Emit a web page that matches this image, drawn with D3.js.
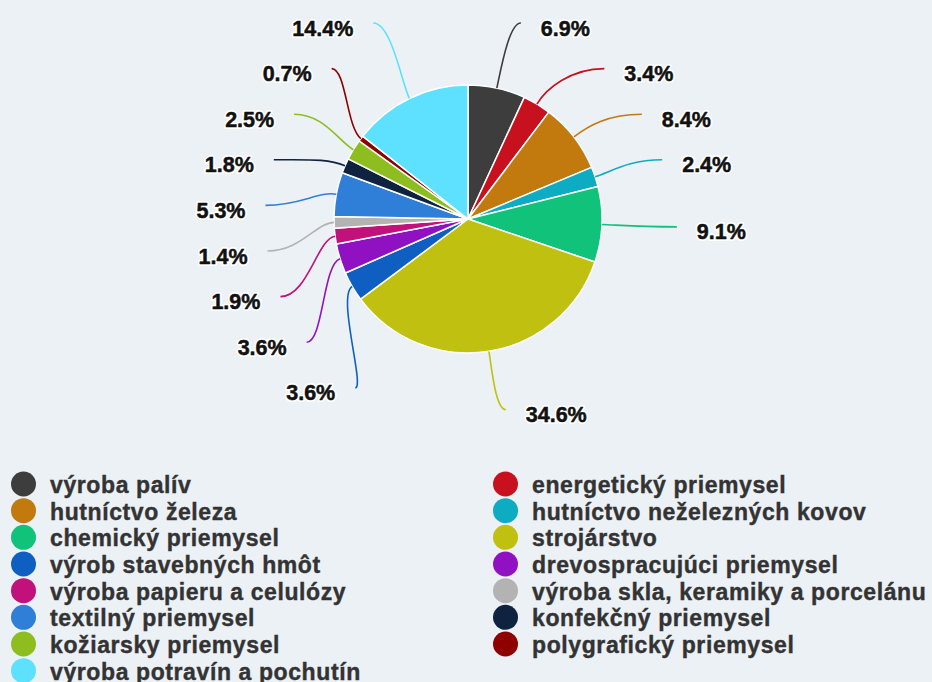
<!DOCTYPE html>
<html>
<head>
<meta charset="utf-8">
<script src="https://cdn.jsdelivr.net/npm/d3@7"></script>
<style>
  html, body { margin: 0; padding: 0; background: #ecf1f6; }
  svg { display: block; font-family: "Liberation Sans", Arial, Helvetica, sans-serif; }
</style>
</head>
<body>
<svg id="chart" width="932" height="682"></svg>
<script>
// data, in slice order (clockwise from 12 o'clock)
const categories = [
  "výroba palív", "energetický priemysel", "hutníctvo železa", "hutníctvo neželezných kovov",
  "chemický priemysel", "strojárstvo", "výrob stavebných hmôt", "drevospracujúci priemysel",
  "výroba papieru a celulózy", "výroba skla, keramiky a porcelánu", "textilný priemysel",
  "konfekčný priemysel", "kožiarsky priemysel", "polygrafický priemysel", "výroba potravín a pochutín"
]
const values = [6.9, 3.4, 8.4, 2.4, 9.1, 34.6, 3.6, 3.6, 1.9, 1.4, 5.3, 1.8, 2.5, 0.7, 14.4]
const colors = [
  "#3d3d3d", "#c8111e", "#c27a0e", "#0eacc2", "#11c27a", "#c0c011", "#0f5fc2", "#9011c2",
  "#c2117a", "#b3b3b3", "#2f7fd8", "#0f2340", "#8ebd1f", "#8f0000", "#5ee1ff"
]

const cx = 468, cy = 219, radius = 134
const labelRy = 193, labelRx = 203, gap = 45.6, minY = 23

const svg = d3.select("#chart")
const color = d3.scaleOrdinal().domain(categories).range(colors)

const data = categories.map((c, i) => ({name: c, value: values[i]}))
const pie = d3.pie().value(d => d.value).sort(null)
const arcs = pie(data)
const arc = d3.arc().innerRadius(0).outerRadius(radius)

const g = svg.append("g").attr("transform", `translate(${cx},${cy})`)

g.selectAll("path.slice")
  .data(arcs).enter()
  .append("path")
  .attr("class", "slice")
  .attr("d", arc)
  .attr("fill", d => color(d.data.name))
  .attr("stroke", "#fff")
  .attr("stroke-width", 1.5)
  .attr("stroke-linejoin", "round")

// label layout: natural spot on the label ring, then stack per side
arcs.forEach(d => {
  d.mid = (d.startAngle + d.endAngle) / 2
  d.side = Math.sin(d.mid) >= 0 ? 1 : -1
  d.ny = -labelRy * Math.cos(d.mid)
})

function stack(items) {
  items.sort((a, b) => a.ny - b.ny)
  let groups = items.map(d => [d])
  const top = grp => Math.max(minY - cy, d3.mean(grp, d => d.ny) - (grp.length - 1) * gap / 2)
  let merged = true
  while (merged) {
    merged = false
    for (let i = 0; i < groups.length - 1; i++) {
      const a = groups[i], b = groups[i + 1]
      if (top(b) < top(a) + a.length * gap) {
        groups.splice(i, 2, a.concat(b))
        merged = true
        break
      }
    }
  }
  groups.forEach(grp => {
    const t = top(grp)
    grp.forEach((d, i) => { d.ly = t + i * gap })
  })
}
stack(arcs.filter(d => d.side > 0))
stack(arcs.filter(d => d.side < 0))

arcs.forEach(d => {
  const natural = labelRx * Math.abs(Math.sin(d.mid))
  const onRing = Math.sqrt(Math.max(0, labelRx * labelRx - d.ly * d.ly))
  let dx
  if (Math.abs(d.ly - d.ny) < 1) dx = natural + 6        // label kept its own spot
  else if (Math.abs(d.ly) > 0.9 * labelRx) dx = Math.max(natural + 6, onRing)
  else dx = onRing
  d.lx = d.side * dx
})

function tick(d) {
  const sx = Math.sin(d.mid), sy = -Math.cos(d.mid)
  const x0 = radius * sx, y0 = radius * sy
  const x1 = (radius + 18) * sx, y1 = (radius + 18) * sy
  const h = Math.max(10, 0.5 * Math.abs(d.lx - x0))
  const p = d3.path()
  p.moveTo(x0, y0)
  p.bezierCurveTo(x1, y1, d.lx - d.side * h, d.ly, d.lx, d.ly)
  return p.toString()
}

g.selectAll("path.tick")
  .data(arcs).enter()
  .append("path")
  .attr("class", "tick")
  .attr("d", tick)
  .attr("fill", "none")
  .attr("stroke", d => color(d.data.name))
  .attr("stroke-width", 1.6)

// white halo first, then the bold text on top
const pct = d => d3.format(".1f")(d.value) + "%"
;["halo", "pct"].forEach(cls => {
  g.selectAll("text." + cls)
    .data(arcs).enter()
    .append("text")
    .attr("class", cls)
    .attr("x", d => d.lx + d.side * 20)
    .attr("y", d => d.ly + 12.5)
    .attr("text-anchor", d => d.side > 0 ? "start" : "end")
    .attr("font-size", 21.5)
    .attr("font-weight", "bold")
    .attr("fill", "#111")
    .attr("stroke", cls == "halo" ? "#fff" : "#111")
    .attr("stroke-width", cls == "halo" ? 4 : 0.5)
    .attr("stroke-linejoin", "round")
    .text(pct)
})

// legend, two columns filled row by row
const legendX = [23.5, 505.5], legendY0 = 484, rowH = 26.67
const legend = svg.append("g")
  .selectAll("g")
  .data(categories).enter()
  .append("g")
  .attr("transform", (d, i) => `translate(${legendX[i % 2]},${legendY0 + Math.floor(i / 2) * rowH})`)

legend.append("circle")
  .attr("r", 12.5)
  .attr("fill", d => color(d))

legend.append("text")
  .attr("x", 26.5)
  .attr("y", 9)
  .attr("font-size", 23)
  .attr("font-weight", "bold")
  .attr("letter-spacing", 0.6)
  .attr("fill", "#333")
  .attr("stroke", "#333")
  .attr("stroke-width", 0.4)
  .text(d => d)
</script>
</body>
</html>
